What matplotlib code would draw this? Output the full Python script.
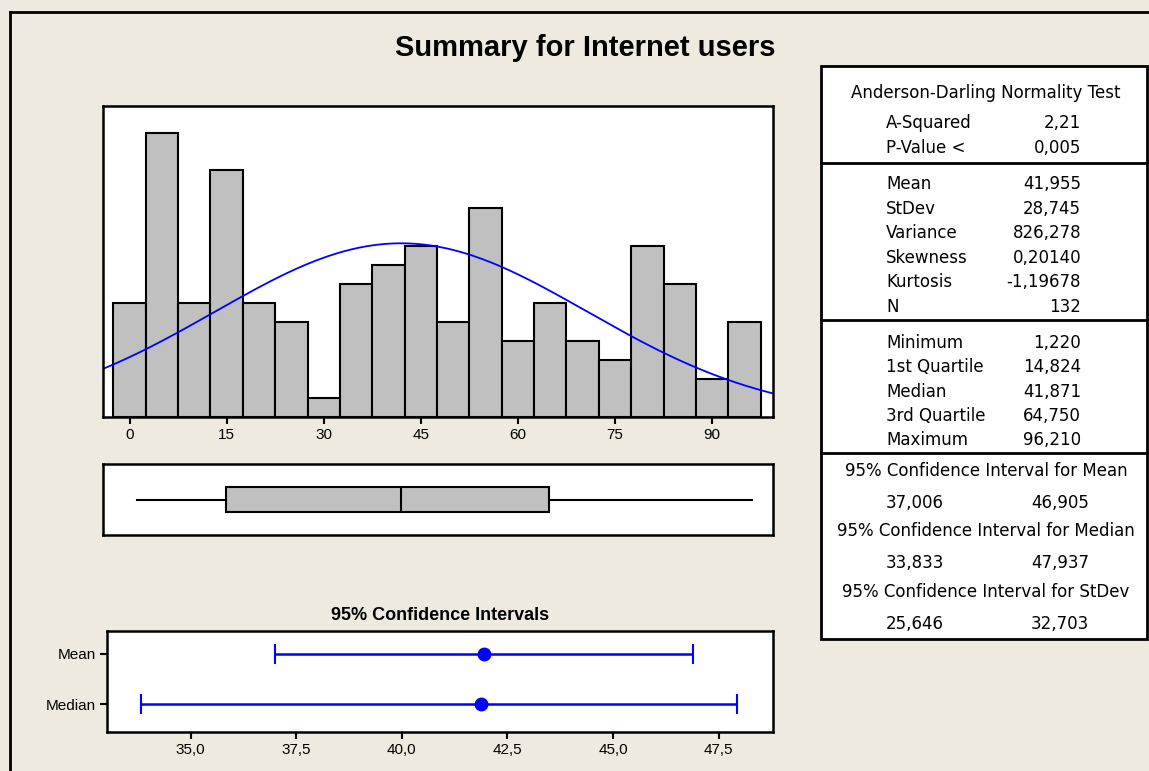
import numpy as np
import matplotlib
matplotlib.use('Agg')
import matplotlib.pyplot as plt
from matplotlib.patches import Rectangle
from matplotlib.lines import Line2D

#************ data *************************************
bin_centers = [0, 5, 10, 15, 20, 25, 30, 35, 40, 45, 50, 55, 60, 65, 70, 75, 80, 85, 90, 95]
bin_counts = [6, 15, 6, 13, 6, 5, 1, 7, 8, 9, 5, 11, 4, 6, 4, 3, 9, 7, 2, 5]
bin_width = 5

n_obs = 132
mean_val = 41.955
stdev_val = 28.745

# five number summary (box plot)
min_val, q1_val, median_val, q3_val, max_val = 1.220, 14.824, 41.871, 64.750, 96.210

# 95% confidence intervals
ci_labels = ['Mean', 'Median']
ci_centers = [41.955, 41.871]
ci_low = [37.006, 33.833]
ci_high = [46.905, 47.937]
ci_ticks = [35.0, 37.5, 40.0, 42.5, 45.0, 47.5]

hist_ticks = [0, 15, 30, 45, 60, 75, 90]

# right hand table
ad_rows = [('A-Squared', '2,21'), ('P-Value <', '0,005')]
moment_rows = [('Mean', '41,955'), ('StDev', '28,745'), ('Variance', '826,278'),
               ('Skewness', '0,20140'), ('Kurtosis', '-1,19678'), ('N', '132')]
quant_rows = [('Minimum', '1,220'), ('1st Quartile', '14,824'), ('Median', '41,871'),
              ('3rd Quartile', '64,750'), ('Maximum', '96,210')]
ci_rows = [('95% Confidence Interval for Mean', '37,006', '46,905'),
           ('95% Confidence Interval for Median', '33,833', '47,937'),
           ('95% Confidence Interval for StDev', '25,646', '32,703')]
#************ end of data **************

W, H = 1149, 771
bg = '#EEEAE0'
bar_col = '#C0C0C0'
blue = '#0000FF'
plt.rcParams['font.family'] = ['Liberation Sans', 'DejaVu Sans']

fig = plt.figure(figsize=(W / 100, H / 100), dpi=100, facecolor=bg)


def px_axes(left, top, right, bottom):
    # pixel box -> figure fraction axes
    return fig.add_axes([left / W, 1 - bottom / H, (right - left) / W, (bottom - top) / H])


def fx(x):
    return x / W


def fy(y):
    return 1 - y / H


# outer frame (left and top edges visible)
fig.add_artist(Line2D([fx(10), fx(10)], [fy(12), 0], color='black', lw=2))
fig.add_artist(Line2D([fx(10), 1], [fy(12), fy(12)], color='black', lw=2))

fig.text(fx(585), fy(48), 'Summary for Internet users', ha='center', va='center',
         fontsize=21, fontweight='bold')

xlo, xhi = -4.1, 99.4

# histogram with fitted normal curve
ax = px_axes(103, 106, 773, 417)
ax.bar(bin_centers, bin_counts, width=bin_width, color=bar_col, edgecolor='black', lw=1.5)
xs = np.linspace(xlo, xhi, 300)
ys = n_obs * bin_width * np.exp(-0.5 * ((xs - mean_val) / stdev_val) ** 2) / (stdev_val * np.sqrt(2 * np.pi))
ax.plot(xs, ys, color=blue, lw=1.3)
ax.set_xlim(xlo, xhi)
ax.set_ylim(0, 16.4)
ax.set_yticks([])
ax.set_xticks(hist_ticks)
ax.tick_params(axis='x', length=5, width=1.5, labelsize=11, pad=3)
for s in ax.spines.values():
    s.set_linewidth(1.8)

# box plot
axb = px_axes(103, 464, 773, 535)
axb.bxp([{'med': median_val, 'q1': q1_val, 'q3': q3_val, 'whislo': min_val,
          'whishi': max_val, 'fliers': []}],
        vert=False, widths=0.35, showcaps=False, patch_artist=True,
        boxprops=dict(facecolor=bar_col, edgecolor='black', lw=1.5),
        medianprops=dict(color='black', lw=1.5),
        whiskerprops=dict(color='black', lw=1.5))
axb.set_xlim(xlo, xhi)
axb.set_ylim(0.5, 1.5)
axb.set_xticks([])
axb.set_yticks([])
for s in axb.spines.values():
    s.set_linewidth(1.8)

# confidence intervals
axc = px_axes(107, 631, 773, 732)
ypos = [1, 0]
for i in range(len(ci_labels)):
    axc.errorbar([ci_centers[i]], [ypos[i]],
                 xerr=[[ci_centers[i] - ci_low[i]], [ci_high[i] - ci_centers[i]]],
                 fmt='o', color=blue, ms=9, capsize=7, capthick=1.5, elinewidth=1.8)
axc.set_xlim(33.02, 48.79)
axc.set_ylim(-0.55, 1.45)
axc.set_yticks(ypos)
axc.set_yticklabels(ci_labels)
axc.set_xticks(ci_ticks)
axc.set_xticklabels([f'{t:.1f}'.replace('.', ',') for t in ci_ticks])
axc.tick_params(length=5, width=1.5, labelsize=11, pad=3)
for s in axc.spines.values():
    s.set_linewidth(1.8)
fig.text(fx(440), fy(615), '95% Confidence Intervals', ha='center', va='center',
         fontsize=13, fontweight='bold')

# statistics table
tl, tr = 821, 1147
fig.add_artist(Rectangle((fx(tl), fy(639)), fx(tr - tl), (639 - 66) / H,
                         facecolor='white', edgecolor='black', lw=2))
for yy in [163, 320, 453]:
    fig.add_artist(Line2D([fx(tl), fx(tr)], [fy(yy), fy(yy)], color='black', lw=2))

tfs = 12
tfam = ['DejaVu Sans']
lab_x, val_x = 886, 1081
fig.text(fx(986), fy(93), 'Anderson-Darling Normality Test', ha='center', va='center',
         fontsize=tfs, family=tfam)
for k, (lab, val) in enumerate(ad_rows):
    y = 123 + k * 25
    fig.text(fx(lab_x), fy(y), lab, ha='left', va='center', fontsize=tfs, family=tfam)
    fig.text(fx(val_x), fy(y), val, ha='right', va='center', fontsize=tfs, family=tfam)
for k, (lab, val) in enumerate(moment_rows):
    y = 184 + k * 24.6
    fig.text(fx(lab_x), fy(y), lab, ha='left', va='center', fontsize=tfs, family=tfam)
    fig.text(fx(val_x), fy(y), val, ha='right', va='center', fontsize=tfs, family=tfam)
for k, (lab, val) in enumerate(quant_rows):
    y = 343 + k * 24.3
    fig.text(fx(lab_x), fy(y), lab, ha='left', va='center', fontsize=tfs, family=tfam)
    fig.text(fx(val_x), fy(y), val, ha='right', va='center', fontsize=tfs, family=tfam)
for k, (lab, v1, v2) in enumerate(ci_rows):
    y = 471 + k * 60.5
    fig.text(fx(986), fy(y), lab, ha='center', va='center', fontsize=tfs, family=tfam)
    fig.text(fx(lab_x), fy(y + 32), v1, ha='left', va='center', fontsize=tfs, family=tfam)
    fig.text(fx(1031), fy(y + 32), v2, ha='left', va='center', fontsize=tfs, family=tfam)

fig.savefig('out.png', dpi=100, facecolor=bg)
